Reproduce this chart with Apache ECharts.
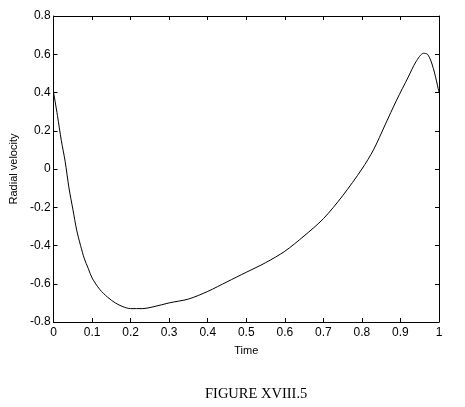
<!DOCTYPE html>
<html>
<head>
<meta charset="utf-8">
<script src="https://cdn.jsdelivr.net/npm/echarts@6/dist/echarts.min.js"></script>
<style>
html,body{margin:0;padding:0;background:#fff;}
#chart{width:465px;height:407px;}
</style>
</head>
<body>
<div id="chart"></div>
<script>
var timeValues = [0, 0.01, 0.02, 0.03, 0.04, 0.05, 0.06, 0.07, 0.08, 0.09, 0.10, 0.12, 0.14, 0.16, 0.18, 0.20, 0.23, 0.26, 0.30, 0.35, 0.40, 0.45, 0.50, 0.55, 0.60, 0.65, 0.70, 0.75, 0.80, 0.83, 0.86, 0.89, 0.92, 0.94, 0.96, 0.97, 0.98, 0.99, 1.0];
var radialVelocity = [0.40, 0.28, 0.15, 0.04, -0.10, -0.21, -0.32, -0.40, -0.47, -0.52, -0.57, -0.63, -0.67, -0.70, -0.72, -0.73, -0.73, -0.72, -0.70, -0.68, -0.64, -0.59, -0.54, -0.49, -0.43, -0.35, -0.26, -0.14, 0.00, 0.10, 0.23, 0.36, 0.48, 0.56, 0.605, 0.60, 0.56, 0.49, 0.40];
var xTitle = 'Time';
var yTitle = 'Radial velocity';
var figureCaption = 'FIGURE XVIII.5';

var points = timeValues.map(function (t, i) { return [t, radialVelocity[i]]; });

var chart = echarts.init(document.getElementById('chart'), null, {renderer: 'canvas'});
var tickFont = {fontFamily: 'Liberation Sans, Arial, sans-serif', fontSize: 12, color: '#000'};
var nameFont = {fontFamily: 'Liberation Sans, Arial, sans-serif', fontSize: 11, color: '#000'};
var lineStyle = {color: '#000', width: 1};

function xAxisDef(pos, show) {
  return {
    type: 'value', position: pos, min: 0, max: 1, interval: 0.1,
    axisLine: {show: true, onZero: false, lineStyle: lineStyle},
    axisTick: {show: true, inside: true, length: 4, lineStyle: lineStyle},
    axisLabel: Object.assign({show: show, margin: 5}, tickFont),
    splitLine: {show: false},
    name: show ? xTitle : '',
    nameLocation: 'middle', nameGap: 23,
    nameTextStyle: nameFont
  };
}
function yAxisDef(pos, show) {
  return {
    type: 'value', position: pos, min: -0.8, max: 0.8, interval: 0.2,
    axisLine: {show: true, onZero: false, lineStyle: lineStyle},
    axisTick: {show: true, inside: true, length: 4, lineStyle: lineStyle},
    axisLabel: Object.assign({show: show, margin: 3}, tickFont),
    splitLine: {show: false},
    name: show ? yTitle : '',
    nameLocation: 'middle', nameGap: 30,
    nameTextStyle: nameFont
  };
}

chart.setOption({
  animation: false,
  backgroundColor: '#fff',
  title: {
    text: figureCaption,
    left: 200, top: 382,
    textStyle: {fontFamily: 'Liberation Serif, Times New Roman, serif', fontSize: 14.5, fontWeight: 'normal', color: '#000'}
  },
  grid: {left: 50, top: 16, right: 26, bottom: 85, containLabel: false},
  xAxis: [xAxisDef('bottom', true), xAxisDef('top', false)],
  yAxis: [yAxisDef('left', true), yAxisDef('right', false)],
  series: [{
    type: 'line',
    xAxisIndex: 0, yAxisIndex: 0,
    data: points,
    smooth: 0.3,
    showSymbol: false,
    lineStyle: {color: '#000', width: 1}
  }]
});
</script>
</body>
</html>
